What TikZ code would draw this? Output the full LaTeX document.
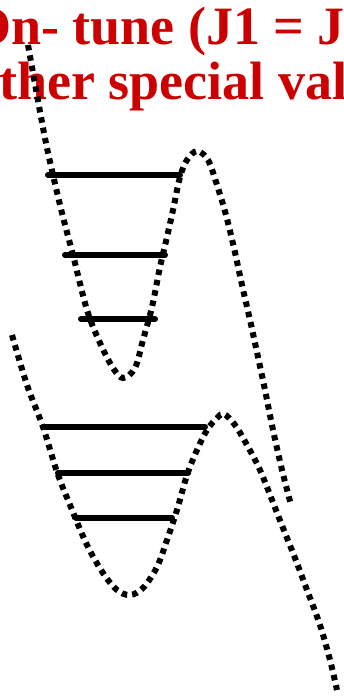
\documentclass[tikz,border=0pt]{standalone}
\usepackage{fontspec}
\setmainfont{Liberation Serif}
\definecolor{titlered}{RGB}{204,0,0}
\begin{document}
\begin{tikzpicture}[x=1pt,y=-1pt,
  wellcurve/.style={line width=6pt,dash pattern=on 5.5pt off 5pt,line cap=butt},
  level/.style={line width=6pt,line cap=round},
  title/.style={anchor=base west,inner sep=0pt,text=titlered,font=\bfseries\fontsize{54}{60}\selectfont}]
\useasboundingbox (0,0) rectangle (343,698);
\clip (0,0) rectangle (343,698);
% title
\node[title] (t1) at (-31,45) {On- tune (J1 = J2) or};
\node[title] (t2) at (-28,100) {other special values};
% upper well
\draw[wellcurve] plot[smooth,tension=0.55] coordinates {
 (28,45) (44,133) (53,175) (63,217) (73,255) (87,310) (100,343) (113,368) (123,378)
 (135,368) (143,340) (152,307) (160,267) (167,237) (173,210) (180,177) (187,160) (197,151)
 (208,160) (217,185) (226,215) (234,248) (242,285) (250,320) (258,357) (265,390)
 (273,430) (282,470) (291,505)};
\coordinate (a1) at (48,175); \coordinate (b1) at (180,175);
\coordinate (a2) at (65,255); \coordinate (b2) at (165,255);
\coordinate (a3) at (81,319); \coordinate (b3) at (155,319);
\draw[level] (a1) -- (b1);
\draw[level] (a2) -- (b2);
\draw[level] (a3) -- (b3);
% lower well
\draw[wellcurve] plot[smooth,tension=0.55] coordinates {
 (12,335) (27,385) (43,427) (57,472) (70,505) (87,545) (103,573) (117,590) (130,595)
 (143,588) (157,567) (167,540) (177,510) (187,475) (197,450) (207,430) (217,418) (224,414)
 (235,425) (247,445) (260,470) (272,500) (283,528) (295,558) (307,590) (320,625) (330,660) (337,690)};
\coordinate (c1) at (43,427); \coordinate (d1) at (205,427);
\coordinate (c2) at (58,473); \coordinate (d2) at (188,473);
\coordinate (c3) at (76,518); \coordinate (d3) at (172,518);
\draw[level] (c1) -- (d1);
\draw[level] (c2) -- (d2);
\draw[level] (c3) -- (d3);
\end{tikzpicture}
\end{document}
